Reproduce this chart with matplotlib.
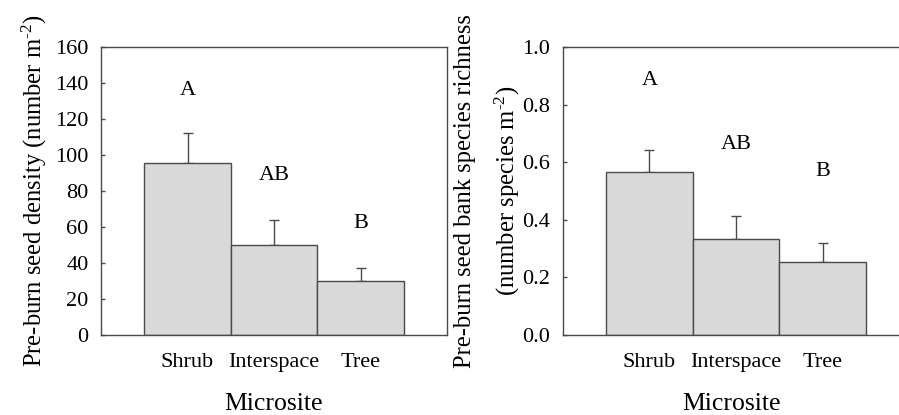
import matplotlib
matplotlib.use("Agg")
import matplotlib.pyplot as plt
import numpy as np

plt.rcParams['font.family'] = ['Liberation Serif', 'DejaVu Serif']
plt.rcParams['mathtext.fontset'] = 'custom'
plt.rcParams['mathtext.rm'] = 'Liberation Serif'
plt.rcParams['mathtext.it'] = 'Liberation Serif:italic'

categories = ["Shrub", "Interspace", "Tree"]
density = [95.5, 50, 30]
density_err = [16.5, 14, 7.5]
density_letters = ["A", "AB", "B"]
density_letter_y = [136, 88.5, 62]

richness = [0.567, 0.332, 0.254]
richness_err = [0.074, 0.082, 0.066]
richness_letters = ["A", "AB", "B"]
richness_letter_y = [0.885, 0.662, 0.567]

fig = plt.figure(figsize=(8.99, 4.15), dpi=100)
W, H = 899, 415

bar_color = "#d9d9d9"
edge_color = "#4a4a4a"
fs = 16
lfs = 17.7

def make_panel(rect, vals, errs, letters, letter_y, ylim, yticks, fmt, xlim):
    ax = fig.add_axes(rect)
    x = np.arange(1, len(vals) + 1)
    ax.bar(x, vals, width=1.0, color=bar_color, edgecolor=edge_color, linewidth=1.0, zorder=2)
    ax.errorbar(x, vals, yerr=[np.zeros(len(errs)), errs], fmt="none", ecolor=edge_color,
                elinewidth=1.0, capsize=3.5, capthick=1.0, zorder=1)
    for xi, lt, ly in zip(x, letters, letter_y):
        ax.text(xi, ly, lt, ha="center", va="center", fontsize=fs)
    ax.set_xlim(*xlim)
    ax.set_ylim(*ylim)
    ax.set_yticks(yticks)
    ax.set_yticklabels([fmt.format(t) for t in yticks], fontsize=fs)
    ax.set_xticks(x)
    ax.set_xticklabels(categories, fontsize=fs)
    ax.tick_params(axis="x", length=0, pad=13)
    ax.tick_params(axis="y", direction="in", length=3, width=1.0, pad=9, color=edge_color)
    for s in ax.spines.values():
        s.set_color(edge_color)
        s.set_linewidth(1.0)
    ax.set_xlabel("Microsite", fontsize=lfs + 0.8, labelpad=15)
    return ax

ax1 = make_panel([101 / W, 80 / H, 346 / W, 288 / H], density, density_err,
                 density_letters, density_letter_y, (0, 160), list(range(0, 161, 20)), "{:d}", (0, 4))
ax1.set_ylabel(r"Pre-burn seed density (number m$^{\text{-2}}$)", fontsize=lfs, labelpad=4.5)

ax2 = make_panel([562.7 / W, 80 / H, 338 / W, 288 / H], richness, richness_err,
                 richness_letters, richness_letter_y, (0, 1.0), [0.0, 0.2, 0.4, 0.6, 0.8, 1.0], "{:.1f}", (0, 3.9))
ax2.set_ylabel("Pre-burn seed bank species richness\n" + r"(number species m$^{\text{-2}}$)", fontsize=lfs,
               labelpad=0, linespacing=1.8)

fig.savefig("out.png", dpi=100)
